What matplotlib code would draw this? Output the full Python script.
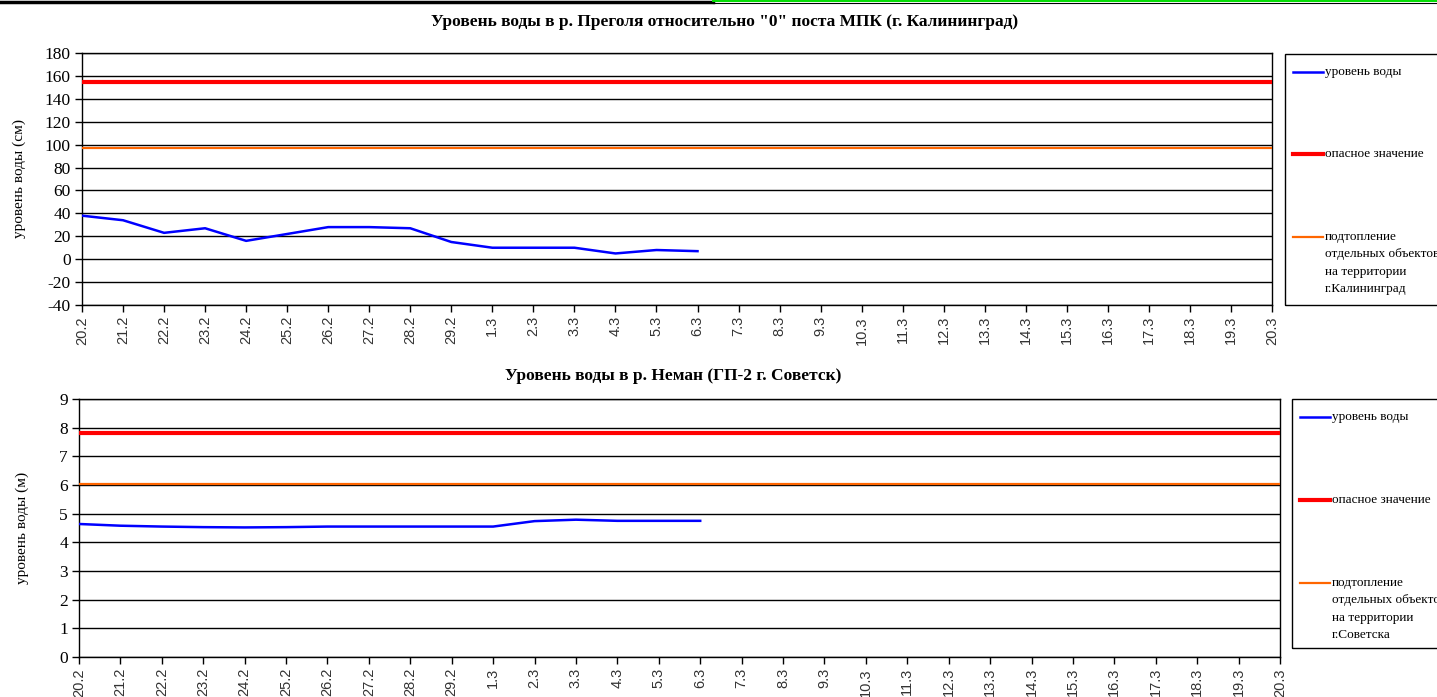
import numpy as np
import matplotlib
matplotlib.use("Agg")
import matplotlib.pyplot as plt
from matplotlib.lines import Line2D
from matplotlib.patches import Rectangle

plt.rcParams["font.family"] = ["Liberation Serif", "DejaVu Serif"]

# dates 20.2 .. 20.3
dates = [f"{d}.2" for d in range(20, 30)] + [f"{d}.3" for d in range(1, 21)]

# Pregolya, Kaliningrad (cm), daily values observed so far
preg_level = [38, 34, 23, 27, 16, 22, 28, 28, 27, 15, 10, 10, 10, 5, 8, 7]
preg_danger = 155
preg_flood = 97

# Neman, Sovetsk (m)
neman_level = [4.64, 4.58, 4.55, 4.53, 4.52, 4.53, 4.55, 4.55, 4.55, 4.55,
               4.55, 4.74, 4.79, 4.75, 4.75, 4.75]
neman_danger = 7.8
neman_flood = 6.05

W, H = 1437, 697
fig = plt.figure(figsize=(W / 100, H / 100), dpi=100)


def fx(px):
    return px / W


def fy(py):
    return 1 - py / H


def draw_chart(rect, level, danger, flood, ylim, yticks, ylabel, ylab_x,
               title, title_xy):
    ax = fig.add_axes(rect)
    x = np.arange(len(dates))
    ax.axhline(danger, color="#ff0000", lw=3.0, zorder=3)
    ax.axhline(flood, color="#ff6600", lw=1.6, zorder=3)
    ax.plot(x[:len(level)], level, color="#0000ff", lw=1.8, zorder=4)
    ax.set_xlim(0, len(dates) - 1)
    ax.set_ylim(*ylim)
    ax.set_yticks(yticks)
    ax.set_yticklabels([str(t) for t in yticks], fontsize=12.5)
    ax.set_xticks(x)
    ax.set_xticklabels(dates, rotation=90, fontsize=10.5,
                       family=["Liberation Sans"], color="#333333")
    ax.grid(axis="y", color="#000000", lw=1.0)
    ax.tick_params(axis="both", direction="out", length=5, width=1, pad=3)
    for s in ax.spines.values():
        s.set_color("#000000")
        s.set_linewidth(1.0)
    ax.set_ylabel(ylabel, fontsize=11)
    x0 = rect[0] * W
    ax.yaxis.set_label_coords((ylab_x - x0) / (rect[2] * W), 0.5)
    fig.text(fx(title_xy[0]), fy(title_xy[1]), title, ha="center", va="center",
             fontsize=12.5, fontweight="bold")
    return ax


def draw_legend(box, rows, city):
    # box in pixels: left, top, bottom; extends beyond right edge
    l, t, b = box
    fig.patches.append(Rectangle((fx(l), fy(b)), fx(W + 20 - l), fy(t) - fy(b),
                                 transform=fig.transFigure, fill=False,
                                 edgecolor="#000000", lw=1.0))
    specs = [("уровень воды", "#0000ff", 1.8),
             ("опасное значение", "#ff0000", 3.0),
             ("подтопление\nотдельных объектов\nна территории\n" + city, "#ff6600", 1.6)]
    for (label, c, lw), yy in zip(specs, rows):
        fig.lines.append(Line2D([fx(l + 8), fx(l + 38)], [fy(yy), fy(yy)],
                                transform=fig.transFigure, color=c, lw=lw))
        fig.text(fx(l + 40), fy(yy - 6), label, ha="left", va="top",
                 fontsize=9.5, linespacing=1.6)


draw_chart([fx(82), fy(305), fx(1272 - 82), fy(53) - fy(305)],
           preg_level, preg_danger, preg_flood, (-40, 180),
           list(range(-40, 181, 20)), "уровень воды (см)", 26,
           'Уровень воды в р. Преголя относительно "0" поста МПК (г. Калининград)',
           (725, 22))
draw_legend((1285, 54, 305), (72, 154, 237), "г.Калининград")

draw_chart([fx(79), fy(657), fx(1280 - 79), fy(399) - fy(657)],
           neman_level, neman_danger, neman_flood, (0, 9),
           list(range(0, 10)), "уровень воды (м)", 29,
           "Уровень воды в р. Неман (ГП-2 г. Советск)", (673, 376))
draw_legend((1292, 399, 648), (417, 500, 583), "г.Советска")

# strip along the top edge
fig.lines.append(Line2D([0, fx(713)], [fy(1.5), fy(1.5)], transform=fig.transFigure,
                        color="#000000", lw=2.5))
fig.lines.append(Line2D([fx(713), 1], [fy(2.5), fy(2.5)], transform=fig.transFigure,
                        color="#000000", lw=0.8))
fig.lines.append(Line2D([fx(713), 1], [fy(1), fy(1)], transform=fig.transFigure,
                        color="#00dd00", lw=1.4))

fig.savefig("out.png", dpi=100)
